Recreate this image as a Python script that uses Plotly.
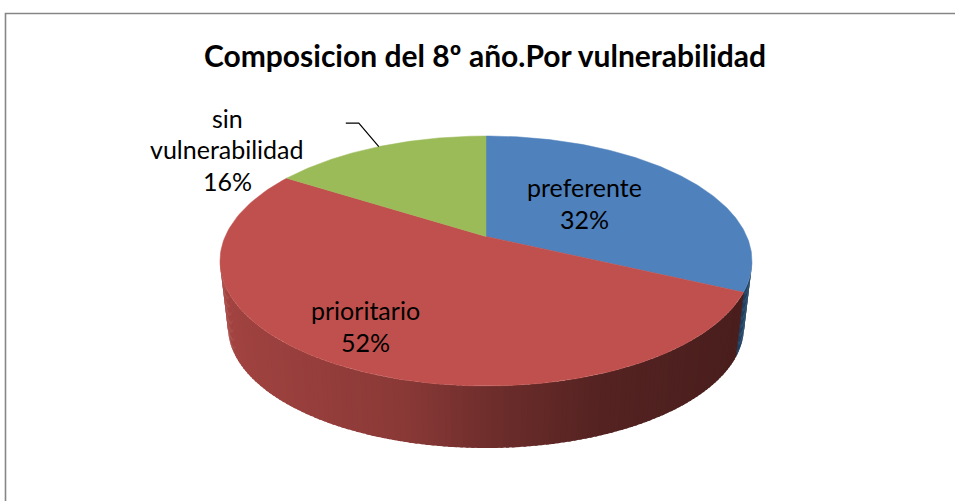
import numpy as np
import plotly.graph_objects as go

categories = ["preferente", "prioritario", "sin<br>vulnerabilidad"]
values = [32, 52, 16]
top_colors = ["#4F81BD", "#C0504D", "#9BBB59"]
wall_colors = ["#1F3F60", "#C0504D", "#4A5A2A"]
title_text = "Composicion del 8º año.Por vulnerabilidad"
label_centres = [(584, 203), (365, 326), (227, 149)]

W, H = 955, 501
CX = 486
TOP = dict(cy=261, rx=266, ry=125)
BOT = dict(cy=327, rx=258, ry=121)
PERSPECTIVE = 1.22
FONT = "Lato, sans-serif"
LINE_STEP = 31.5


def param(theta):
    """Clockwise slice angle -> parameter on the tilted, foreshortened rim."""
    theta = np.asarray(theta, float)
    wrapped = np.mod(theta + np.pi, 2 * np.pi) - np.pi
    half = np.arctan(PERSPECTIVE * np.tan((np.pi - np.abs(wrapped)) / 2))
    return np.where(wrapped >= 0, np.pi - 2 * half, -(np.pi - 2 * half))


def pt(t, e):
    return CX + e["rx"] * np.sin(t), e["cy"] - e["ry"] * np.cos(t)


def shade(c, f):
    base = [int(c[i:i + 2], 16) for i in (1, 3, 5)]
    return "rgb(%d,%d,%d)" % tuple(min(255, b * f) for b in base)


fracs = np.array(values) / sum(values)
edges = np.concatenate([[0], np.cumsum(fracs)]) * 2 * np.pi
edge_t = np.mod(param(edges), 2 * np.pi)
edge_t[-1] = 2 * np.pi
apex_y = float(pt(param(np.pi / 2), TOP)[1])

fig = go.Figure()

# side wall: narrow strips, darker towards the right
STRIPS = 140
for k in range(STRIPS):
    a0 = np.pi / 2 + np.pi * k / STRIPS
    a1 = a0 + np.pi / STRIPS + 0.012
    mid = (a0 + a1) / 2
    ts = np.linspace(a0, a1, 4)
    tx, ty = pt(ts, TOP)
    bx, by = pt(ts[::-1], BOT)
    u = (CX + TOP["rx"] - pt(mid, TOP)[0]) / (2 * TOP["rx"])
    f = np.interp(u, [0, 0.1, 0.286, 0.5, 0.66, 0.96, 1], [0.38, 0.40, 0.44, 0.58, 0.72, 0.83, 0.86])
    i = int(np.searchsorted(edge_t, mid)) - 1
    col = shade(wall_colors[i], f) if i == 1 else wall_colors[i]
    fig.add_trace(go.Scatter(x=np.r_[tx, bx], y=np.r_[ty, by], mode="lines", fill="toself",
                             fillcolor=col, line=dict(width=0), hoverinfo="skip", showlegend=False))

# top face
for i, (cat, col) in enumerate(zip(categories, top_colors)):
    ts = np.linspace(edge_t[i], edge_t[i + 1], 160)
    rx_, ry_ = pt(ts, TOP)
    fig.add_trace(go.Scatter(x=np.r_[CX, rx_, CX], y=np.r_[apex_y, ry_, apex_y], mode="lines",
                             fill="toself", fillcolor=col, line=dict(width=0.5, color=col),
                             name=cat.replace("<br>", " "), hoverinfo="name", showlegend=False))

# leader line to the outside label's slice
lx, ly = pt(param((edges[2] + edges[3]) / 2), TOP)
fig.add_trace(go.Scatter(x=[lx - 33, lx - 20, lx], y=[ly - 23.5, ly - 23.5, ly], mode="lines",
                         line=dict(color="black", width=1.2), hoverinfo="skip", showlegend=False))

for cat, v, (cx_, cy_) in zip(categories, values, label_centres):
    lines = cat.split("<br>") + [f"{v}%"]
    for j, text in enumerate(lines):
        fig.add_annotation(x=cx_, y=cy_ + (j - (len(lines) - 1) / 2) * LINE_STEP, text=text,
                           showarrow=False, font=dict(family=FONT, size=25, color="black"))

fig.update_layout(
    width=W, height=H, autosize=False,
    margin=dict(l=0, r=0, t=0, b=0),
    paper_bgcolor="white", plot_bgcolor="white",
    showlegend=False,
    title=dict(text=title_text, x=485 / W, xanchor="center", y=1 - 56 / H, yanchor="middle",
               font=dict(family=FONT, size=30, color="black", weight="bold")),
    xaxis=dict(range=[0, W], visible=False, fixedrange=True),
    yaxis=dict(range=[H, 0], visible=False, fixedrange=True),
    shapes=[dict(type="rect", xref="x", yref="y", x0=5.5, x1=W + 10, y0=13.5, y1=H + 10,
                 line=dict(color="#868686", width=1.6))],
)
fig.write_html("out.html", config={"displayModeBar": False},
               post_script="document.body.style.margin='0';document.body.style.overflow='hidden';")
